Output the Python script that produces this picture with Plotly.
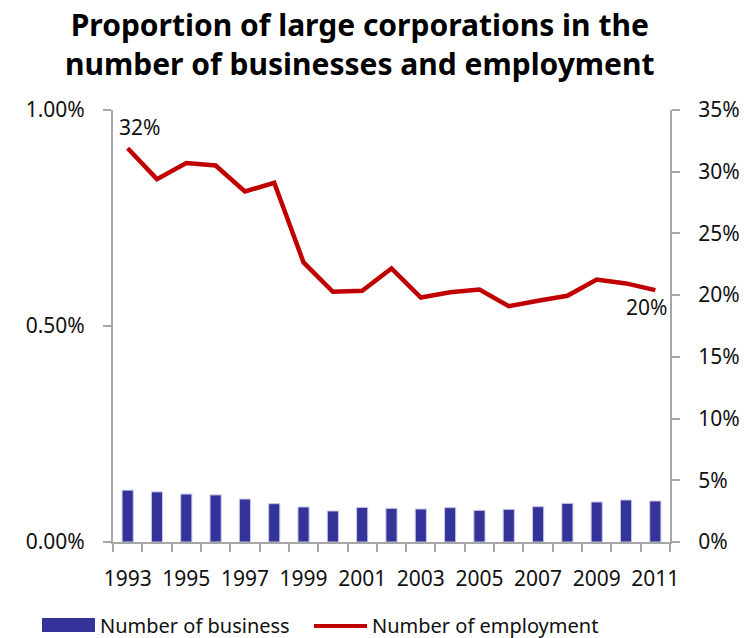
import plotly.graph_objects as go

# --- data -----------------------------------------------------------------
years = [str(y) for y in range(1993, 2012)]
business_share = [0.120, 0.116, 0.111, 0.109, 0.0995, 0.0887, 0.081, 0.0718, 0.080, 0.078,
                  0.0764, 0.0795, 0.0733, 0.0756, 0.0818, 0.0895, 0.0926, 0.0972, 0.0949]  # %
employment_share = [31.9, 29.4, 30.7, 30.5, 28.4, 29.1, 22.65, 20.27, 20.35, 22.16,
                    19.81, 20.24, 20.46, 19.11, 19.54, 19.95, 21.27, 20.95, 20.41]  # %
tick_labels = [y if i % 2 == 0 else "" for i, y in enumerate(years)]
series_names = ["Number of business", "Number of employment"]
title_text = "Proportion of large corporations in the<br>number of businesses and employment"

# --- layout constants --------------------------------------------------------
W, H = 756, 638
ML, MR, MT, MB = 113, 86, 110, 96
PW, PH = W - ML - MR, H - MT - MB
FONT = "Noto Sans"
AXIS_GREY = "#a6a6a6"
BAR_COLOR = "#333399"
LINE_COLOR = "#c00000"


def px_x(x):
    return (x - ML) / PW


def px_y(y):
    return (H - MB - y) / PH


fig = go.Figure()
fig.add_trace(go.Bar(
    x=years, y=[v / 100 for v in business_share], name=series_names[0],
    marker=dict(color=BAR_COLOR, line=dict(color="#c8c8e4", width=1)),
    width=0.38, yaxis="y", showlegend=False,
))
fig.add_trace(go.Scatter(
    x=years, y=[v / 100 for v in employment_share], name=series_names[1],
    mode="lines", line=dict(color=LINE_COLOR, width=4.5),
    yaxis="y2", showlegend=False,
))

# value labels at both ends of the employment line (category axis -> index positions)
fig.add_annotation(x=0, y=employment_share[0] / 100, xref="x", yref="y2",
                   text=f"{round(employment_share[0])}%", showarrow=False,
                   xanchor="left", yanchor="bottom", xshift=-11, yshift=5,
                   font=dict(family=FONT, size=21, color="#111"))
fig.add_annotation(x=len(years) - 1, y=employment_share[-1] / 100, xref="x", yref="y2",
                   text=f"{round(employment_share[-1])}%", showarrow=False,
                   xanchor="right", yanchor="top", xshift=14, yshift=-1,
                   font=dict(family=FONT, size=21, color="#111"))

# chart title
fig.add_annotation(x=px_x(360), y=1, xref="paper", yref="paper", yshift=MT - 2,
                   text=f"<b>{title_text}</b>", showarrow=False,
                   xanchor="center", yanchor="top", align="center",
                   font=dict(family=FONT, size=30, color="#000"))

# legend drawn below the plot
fig.add_shape(type="rect", xref="paper", yref="paper",
              x0=px_x(42), x1=px_x(95), y0=px_y(632), y1=px_y(618),
              fillcolor=BAR_COLOR, line=dict(width=0))
fig.add_shape(type="line", xref="paper", yref="paper",
              x0=px_x(314), x1=px_x(367), y0=px_y(626), y1=px_y(626),
              line=dict(color=LINE_COLOR, width=4))
fig.add_annotation(x=px_x(98), y=px_y(625), xref="paper", yref="paper",
                   text=series_names[0], showarrow=False, xanchor="left", yanchor="middle",
                   font=dict(family=FONT, size=20, color="#111"))
fig.add_annotation(x=px_x(370), y=px_y(625), xref="paper", yref="paper",
                   text=series_names[1], showarrow=False, xanchor="left", yanchor="middle",
                   font=dict(family=FONT, size=20, color="#111"))

axis_common = dict(showgrid=False, zeroline=False, showline=True, linecolor=AXIS_GREY,
                   linewidth=2, ticks="outside", ticklen=8, tickwidth=1.5, tickcolor=AXIS_GREY,
                   tickfont=dict(family=FONT, size=21, color="#111"))

fig.update_layout(
    width=W, height=H,
    margin=dict(l=ML, r=MR, t=MT, b=MB),
    paper_bgcolor="white", plot_bgcolor="white",
    bargap=0.6,
    xaxis=dict(**axis_common, type="category", tickvals=years, ticktext=tick_labels,
               tickson="boundaries", tickangle=0, range=[-0.5, len(years) - 0.5],
               ticklabelstandoff=17),
    yaxis=dict(**axis_common, range=[0, 0.01], tickvals=[0, 0.005, 0.01],
               tickformat=".2%", ticklabelstandoff=14),
    yaxis2=dict(**axis_common, overlaying="y", side="right", range=[0, 0.35],
                tickvals=[i * 0.05 for i in range(8)], tickformat=".0%", ticklabelstandoff=14),
    showlegend=False,
)

fig.write_html("out.html")
